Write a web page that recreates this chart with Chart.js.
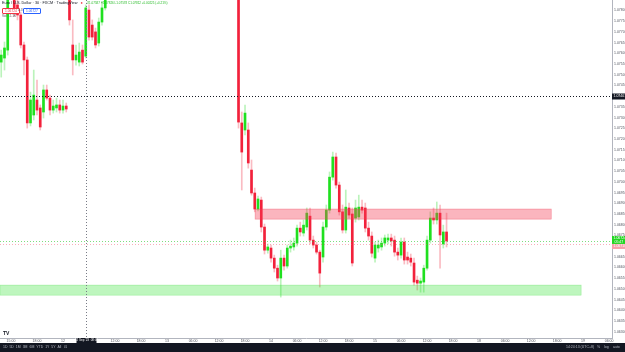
<!DOCTYPE html>
<html>
<head>
<meta charset="utf-8">
<script src="https://cdn.jsdelivr.net/npm/chart.js@4.4.0/dist/chart.umd.min.js"></script>
<style>
  html, body { margin: 0; padding: 0; background: #fff; }
  #wrap { position: relative; width: 625px; height: 352px; overflow: hidden; font-family: "Liberation Sans", Arial, sans-serif; }
  #chart { position: absolute; left: 0; top: 0; }
  .t { position: absolute; white-space: nowrap; line-height: 1; }
  #legend1 { left: 2px; top: 2px; font-size: 3.8px; color: #131722; }
  #legend1 .ohlc { color: #22b922; margin-left: 4px; font-size: 3px; }
  #legend1 .dot { color: #f23645; margin-left: 3px; }
  .pbox { position: absolute; top: 8px; height: 4px; font-size: 3.3px; line-height: 4px; padding: 0 2px; border-radius: 1px; background: #fff; }
  #vol { left: 2px; top: 15px; font-size: 3.3px; color: #555; }
  #bar { position: absolute; left: 0; top: 343px; width: 625px; height: 9px; background: #131722; color: #b2b5be; font-size: 3.5px; }
  #bar span { position: absolute; top: 3px; line-height: 1; }
</style>
</head>
<body>
<div id="wrap">
  <canvas id="chart" width="625" height="343"></canvas>

  <div class="t" id="legend1">Euro / U.S. Dollar · 30 · FXCM · TradingView<span class="dot">●</span><span class="ohlc">O1.07587 H1.07826 L1.07578 C1.07812 +0.00225 (+0.21%)</span></div>
  <div class="pbox" style="left:2px; border:0.5px solid #f23645; color:#f23645;">1.06724</div>
  <div class="t" style="left:18px; top:9px; font-size:3.3px; color:#555;">0.3</div>
  <div class="pbox" style="left:23px; border:0.5px solid #2962ff; color:#2962ff;">1.06727</div>
  <div class="t" id="vol">Vol · 2.1K</div>
  <div class="t" style="left:3px; top:331px; font-size:5px; font-weight:bold; color:#131722;">TV</div>

  <div id="bar">
    <span style="left:3px">1D&nbsp; 5D&nbsp; 1M&nbsp; 3M&nbsp; 6M&nbsp; YTD&nbsp; 1Y&nbsp; 5Y&nbsp; All</span>
    <span style="left:64px">⊡</span>
    <span style="left:566px">14:24:13 (UTC+8)</span>
    <span style="left:597px">%</span>
    <span style="left:604px">log</span>
    <span style="left:613px">auto</span>
  </div>
</div>

<script>
// --- candle data (one entry per 30 min bar, null = above the visible range) ---
const N0 = null;
const opens = [
  1.07559,1.07578,1.07615,1.07896,1.07872,1.07826,1.07779,1.07639,1.07569,1.07275,
  1.07312,1.07382,1.07345,1.07326,1.07429,1.07391,1.07335,1.07345,1.07359,1.07335,
  1.07354,1.07849,1.07639,1.07569,1.07559,1.07615,1.07587,1.07802,1.07732,1.07700,
  1.07648,1.07746,1.07812,1.07872,
  N0,N0,N0,N0,N0,N0,N0,N0,N0,N0,N0,N0,N0,N0,N0,N0,N0,N0,N0,N0,
  N0,N0,N0,N0,N0,N0,N0,N0,N0,N0,N0,N0,N0,N0,N0,N0,N0,N0,N0,
  1.07942,1.07275,1.07242,1.07242,1.07055,1.06948,1.06873,1.06915,1.06789,1.06681,
  1.06691,1.06644,1.06597,1.06551,1.06644,1.06607,1.06691,1.06696,1.06714,1.06784,
  1.06761,1.06789,1.06840,1.06728,1.06705,1.06672,1.06649,1.06789,1.06868,1.07022,
  1.07116,1.06985,1.06860,1.06775,1.06878,1.06850,1.06831,1.06836,1.06882,1.06878,
  1.06784,1.06747,1.06644,1.06691,1.06696,1.06714,1.06728,1.06738,1.06728,1.06672,
  1.06658,1.06719,1.06649,1.06644,1.06621,1.06541,1.06527,1.06532,1.06597,1.06728,
  1.06831,1.06822,1.06854,1.06710,1.06766
];
const highs = [
  1.07615,1.07653,1.07942,1.08083,1.07896,1.07849,1.07793,1.07653,1.07583,1.07419,
  1.07522,1.07475,1.07359,1.07452,1.07452,1.07405,1.07382,1.07391,1.07382,1.07382,
  1.07368,1.07872,1.07756,1.07639,1.07648,1.07639,1.07826,1.07826,1.07756,1.07718,
  1.07765,1.07830,1.07896,1.07989,
  N0,N0,N0,N0,N0,N0,N0,N0,N0,N0,N0,N0,N0,N0,N0,N0,N0,N0,N0,N0,
  N0,N0,N0,N0,N0,N0,N0,N0,N0,N0,N0,N0,N0,N0,N0,N0,N0,N0,N0,
  1.07966,1.07326,1.07359,1.07275,1.07102,1.06971,1.06934,1.06929,1.06803,1.06710,
  1.06705,1.06658,1.06611,1.06681,1.06658,1.06705,1.06728,1.06738,1.06798,1.06812,
  1.06822,1.06878,1.06878,1.06747,1.06719,1.06681,1.06812,1.06892,1.07046,1.07139,
  1.07134,1.06999,1.06892,1.06962,1.06901,1.06878,1.06915,1.06938,1.06915,1.06901,
  1.06812,1.06766,1.06719,1.06728,1.06738,1.06752,1.06756,1.06756,1.06747,1.06691,
  1.06738,1.06738,1.06672,1.06663,1.06644,1.06560,1.06551,1.06611,1.06747,1.06860,
  1.06878,1.06906,1.06892,1.06798,1.06854
];
const lows = [
  1.07489,1.07522,1.07592,1.07886,1.07774,1.07756,1.07625,1.07499,1.07251,1.07261,
  1.07289,1.07312,1.07242,1.07298,1.07382,1.07312,1.07321,1.07326,1.07321,1.07321,
  1.07326,1.07732,1.07499,1.07545,1.07541,1.07550,1.07578,1.07662,1.07662,1.07625,
  1.07634,1.07732,1.07802,1.07858,
  N0,N0,N0,N0,N0,N0,N0,N0,N0,N0,N0,N0,N0,N0,N0,N0,N0,N0,N0,N0,
  N0,N0,N0,N0,N0,N0,N0,N0,N0,N0,N0,N0,N0,N0,N0,N0,N0,N0,N0,
  1.07251,1.06962,1.07219,1.07064,1.06938,1.06860,1.06864,1.06766,1.06663,1.06667,
  1.06625,1.06579,1.06537,1.06462,1.06588,1.06597,1.06672,1.06681,1.06700,1.06747,
  1.06747,1.06775,1.06710,1.06691,1.06663,1.06509,1.06625,1.06775,1.06854,1.07008,
  1.06971,1.06845,1.06761,1.06761,1.06831,1.06607,1.06812,1.06822,1.06854,1.06766,
  1.06728,1.06649,1.06625,1.06672,1.06681,1.06700,1.06710,1.06700,1.06653,1.06635,
  1.06644,1.06616,1.06616,1.06607,1.06518,1.06495,1.06485,1.06485,1.06588,1.06714,
  1.06803,1.06803,1.06597,1.06691,1.06696
];
const closes = [
  1.07592,1.07625,1.07896,1.08036,1.07788,1.07779,1.07639,1.07569,1.07275,1.07382,
  1.07405,1.07335,1.07256,1.07429,1.07391,1.07335,1.07354,1.07359,1.07335,1.07354,
  1.07340,1.07756,1.07569,1.07592,1.07606,1.07559,1.07812,1.07676,1.07676,1.07639,
  1.07746,1.07812,1.07872,1.07942,
  N0,N0,N0,N0,N0,N0,N0,N0,N0,N0,N0,N0,N0,N0,N0,N0,N0,N0,N0,N0,
  N0,N0,N0,N0,N0,N0,N0,N0,N0,N0,N0,N0,N0,N0,N0,N0,N0,N0,N0,
  1.07279,1.07139,1.07321,1.07088,1.06948,1.06873,1.06920,1.06789,1.06681,1.06696,
  1.06644,1.06597,1.06551,1.06644,1.06607,1.06691,1.06700,1.06714,1.06784,1.06766,
  1.06798,1.06854,1.06728,1.06705,1.06672,1.06574,1.06789,1.06868,1.07022,1.07116,
  1.06985,1.06860,1.06775,1.06882,1.06845,1.06621,1.06878,1.06882,1.06868,1.06784,
  1.06747,1.06667,1.06705,1.06705,1.06714,1.06738,1.06738,1.06724,1.06672,1.06658,
  1.06719,1.06635,1.06635,1.06625,1.06532,1.06527,1.06537,1.06597,1.06728,1.06831,
  1.06822,1.06854,1.06752,1.06766,1.06724
];

// time axis labels, one every 8 bars starting at bar 3
const timeLabels = ['15:00','18:00','12','06:00','12:00','18:00','13','06:00','12:00','18:00','14','06:00',
                    '12:00','18:00','15','06:00','12:00','18:00','18','06:00','12:00','18:00','19','06:00'];
const timeTickStart = 3, timeTickStep = 8;

// drawn zones (price top/bottom, bar from/to)
const zoneTop    = [1.06873, 1.06518];
const zoneBottom = [1.06826, 1.06471];
const zoneFrom   = [78.1, -0.4];
const zoneTo     = [169.2, 178.4];

const crossPrice = 1.07401;
const crossBar = 26;
const crossLabel = "12 Sep '23  08:00";
const bidLine = 1.06710;

const yMin = 1.06271, yMax = 1.07849;

// -----------------------------------------------------------------
const GREEN = '#1fe01f', RED = '#f2213b';
const WICK_G = 'rgba(60,220,60,0.35)', WICK_R = 'rgba(240,60,80,0.35)';

const bodies = [], wicks = [], bodyCol = [], wickCol = [];
opens.forEach((o, i) => {
  if (o === null) return;
  const up = closes[i] >= o;
  bodies.push({ x: i, y: [o, closes[i]] });
  wicks.push({ x: i, y: [lows[i], highs[i]] });
  bodyCol.push(up ? GREEN : RED);
  wickCol.push(up ? WICK_G : WICK_R);
});
const lastClose = closes[closes.length - 1];

const overlay = {
  id: 'overlay',
  afterDatasetsDraw(chart) {
    const { ctx, chartArea: a, scales: { x, y } } = chart;
    ctx.save();
    ctx.beginPath();
    ctx.rect(a.left, a.top, a.right - a.left, a.bottom - a.top);
    ctx.clip();

    // zones
    const fills = ['rgba(245,60,85,0.38)', 'rgba(40,225,40,0.3)'];
    const lines = ['rgba(240,70,90,0.55)', 'rgba(60,220,60,0.4)'];
    zoneTop.forEach((t, k) => {
      const x0 = x.getPixelForValue(zoneFrom[k]), x1 = x.getPixelForValue(zoneTo[k]);
      const y0 = y.getPixelForValue(t), y1 = y.getPixelForValue(zoneBottom[k]);
      ctx.fillStyle = fills[k];
      ctx.fillRect(x0, y0, x1 - x0, y1 - y0);
      ctx.strokeStyle = lines[k];
      ctx.lineWidth = 0.6;
      ctx.strokeRect(x0, y0, x1 - x0, y1 - y0);
    });

    // price lines
    ctx.lineWidth = 1;
    ctx.setLineDash([1, 2]);
    let py = Math.round(y.getPixelForValue(lastClose)) + 0.5;
    ctx.strokeStyle = 'rgba(40,200,40,0.6)';
    ctx.beginPath(); ctx.moveTo(a.left, py); ctx.lineTo(a.right, py); ctx.stroke();
    py = Math.round(y.getPixelForValue(bidLine)) + 0.5;
    ctx.strokeStyle = 'rgba(240,80,100,0.45)';
    ctx.beginPath(); ctx.moveTo(a.left, py); ctx.lineTo(a.right, py); ctx.stroke();

    // crosshair
    const cx = Math.round(x.getPixelForValue(crossBar)) + 0.5;
    const cy = Math.round(y.getPixelForValue(crossPrice)) + 0.5;
    ctx.setLineDash([1, 2]);
    ctx.strokeStyle = '#787b86';
    ctx.beginPath(); ctx.moveTo(cx, a.top); ctx.lineTo(cx, a.bottom); ctx.stroke();
    ctx.strokeStyle = '#131722';
    ctx.beginPath(); ctx.moveTo(a.left, cy); ctx.lineTo(a.right, cy); ctx.stroke();
    ctx.restore();

    // axis labels
    ctx.save();
    ctx.font = '3.5px "Liberation Sans", Arial, sans-serif';
    ctx.textBaseline = 'middle';
    ctx.textAlign = 'left';
    // last price
    const ly = y.getPixelForValue(lastClose);
    ctx.fillStyle = '#22d622';
    ctx.fillRect(a.right, ly - 5, 13, 8);
    ctx.fillStyle = '#fff';
    ctx.fillText(lastClose.toFixed(5), a.right + 1.5, ly - 2.5);
    ctx.fillText('05:47', a.right + 2.5, ly + 1);
    ctx.fillStyle = '#f7a1ad';
    ctx.fillRect(a.right, ly + 3, 13, 5);
    ctx.fillStyle = '#fff';
    ctx.fillText(bidLine.toFixed(5), a.right + 1.5, ly + 5.5);
    // crosshair price
    ctx.fillStyle = '#131722';
    ctx.fillRect(a.right, cy - 3, 13, 6);
    ctx.fillStyle = '#fff';
    ctx.fillText(crossPrice.toFixed(5), a.right + 1.5, cy);
    // crosshair time
    ctx.fillStyle = '#131722';
    ctx.fillRect(cx - 10, a.bottom, 20, 5);
    ctx.fillStyle = '#fff';
    ctx.textAlign = 'center';
    ctx.font = '3px "Liberation Sans", Arial, sans-serif';
    ctx.fillText(crossLabel, cx, a.bottom + 2.5);
    ctx.restore();
  }
};

new Chart(document.getElementById('chart'), {
  type: 'bar',
  data: {
    datasets: [{
      data: bodies,
      backgroundColor: bodyCol,
      barThickness: 2,
      minBarLength: 1,
      grouped: false
    }, {
      data: wicks,
      backgroundColor: wickCol,
      barThickness: 1,
      grouped: false
    }]
  },
  options: {
    responsive: false,
    animation: false,
    events: [],
    layout: { padding: 0 },
    plugins: { legend: { display: false }, tooltip: { enabled: false } },
    scales: {
      x: {
        type: 'linear',
        offset: false,
        min: -0.38,
        max: 187.9,
        grid: { display: false, drawTicks: false },
        border: { display: true, color: '#b2b5be' },
        ticks: {
          font: { size: 3.5, family: '"Liberation Sans", Arial, sans-serif' },
          color: '#50535e',
          padding: 1,
          maxRotation: 0,
          autoSkip: false,
          callback: v => timeLabels[(v - timeTickStart) / timeTickStep] ?? ''
        },
        afterBuildTicks: s => {
          s.ticks = timeLabels.map((_, k) => ({ value: timeTickStart + k * timeTickStep }))
            .filter(t => t.value <= s.max);
        },
        afterFit: s => { s.height = 5; s.paddingLeft = 0; s.paddingRight = 0; }
      },
      y: {
        position: 'right',
        min: yMin,
        max: yMax,
        grid: { display: false, drawTicks: false },
        border: { display: true, color: '#b2b5be' },
        ticks: {
          stepSize: 0.0005,
          includeBounds: false,
          font: { size: 3.5, family: '"Liberation Sans", Arial, sans-serif' },
          color: '#50535e',
          padding: 2,
          callback: v => v.toFixed(5)
        },
        afterFit: s => { s.width = 13; s.paddingTop = 0; s.paddingBottom = 0; }
      }
    }
  },
  plugins: [overlay]
});
</script>
</body>
</html>
